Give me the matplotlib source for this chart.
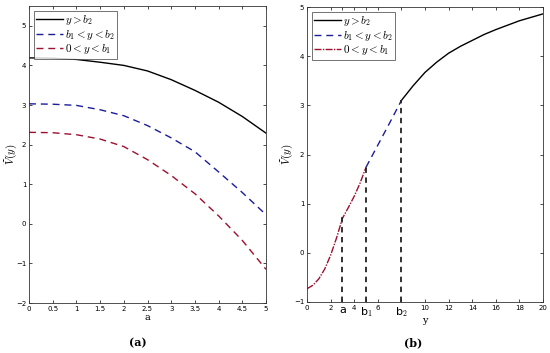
import matplotlib
matplotlib.use('Agg')
import matplotlib.pyplot as plt

plt.rcParams['mathtext.fontset'] = 'cm'

# panel (a): V(y) against a
a_vals = [0, 0.5, 1, 1.5, 2, 2.5, 3, 3.5, 4, 4.5, 5]
v_high = [4.19, 4.18, 4.15, 4.08, 4.00, 3.86, 3.64, 3.37, 3.07, 2.71, 2.29]
v_mid = [3.03, 3.02, 2.99, 2.88, 2.73, 2.48, 2.17, 1.82, 1.31, 0.79, 0.23]
v_low = [2.31, 2.30, 2.25, 2.14, 1.95, 1.62, 1.22, 0.76, 0.20, -0.42, -1.15]

# panel (b): V(y) against y
y_low = [0, 0.5, 1, 1.5, 2, 2.5, 3, 3.5, 4, 4.5, 5]
v_y_low = [-0.73, -0.66, -0.53, -0.33, -0.05, 0.30, 0.70, 0.92, 1.15, 1.42, 1.74]
y_mid = [5, 6, 7, 8]
v_y_mid = [1.74, 2.19, 2.64, 3.10]
y_high = [8, 9, 10, 11, 12, 13, 14, 15, 16, 17, 18, 19, 20]
v_y_high = [3.10, 3.40, 3.67, 3.88, 4.06, 4.20, 4.32, 4.44, 4.54, 4.63, 4.72, 4.79, 4.86]

# marked points a, b1, b2
marks = [3, 5, 8]
mark_vals = [0.72, 1.74, 3.10]

blue = '#1c1c9c'
red = '#9c1030'
labels = [r'$y>b_2$', r'$b_1<y<b_2$', r'$0<y<b_1$']

fig = plt.figure(figsize=(5.5, 3.53), dpi=100)
ax1 = fig.add_axes([29/550, 1-303/353, 237/550, 297/353])
ax2 = fig.add_axes([307/550, 1-302/353, 236/550, 295/353])

def style(ax):
    ax.tick_params(direction='in', top=True, right=True, length=2.5, width=0.5,
                   labelsize=5, pad=2)
    for s in ax.spines.values():
        s.set_linewidth(0.6)
        s.set_color('#333333')

def add_legend(ax):
    leg = ax.legend(loc='upper left', fontsize=8, handlelength=2.4, handletextpad=0.15,
                    borderpad=0.2, labelspacing=0.05, borderaxespad=0.45, fancybox=False)
    leg.get_frame().set_edgecolor('#333333')
    leg.get_frame().set_linewidth(0.6)

ax1.plot(a_vals, v_high, color='black', lw=1.0, label=labels[0])
ax1.plot(a_vals, v_mid, color=blue, lw=1.0, ls=(0, (5, 3.5)), label=labels[1])
ax1.plot(a_vals, v_low, color=red, lw=1.0, ls=(0, (5, 3.5)), label=labels[2])
ax1.set_xlim(0, 5)
ax1.set_ylim(-2, 5.5)
ax1.set_xticks([0, 0.5, 1, 1.5, 2, 2.5, 3, 3.5, 4, 4.5, 5])
ax1.set_xticklabels(['0', '0.5', '1', '1.5', '2', '2.5', '3', '3.5', '4', '4.5', '5'])
ax1.set_yticks([-2, -1, 0, 1, 2, 3, 4, 5])
style(ax1)
ax1.set_xlabel('a', fontsize=7, family='DejaVu Serif', labelpad=1)
ax1.set_ylabel(r'$\widetilde{V}(y)$', fontsize=8)
ax1.yaxis.set_label_coords(-0.042, 0.5)
add_legend(ax1)

ax2.plot(y_high, v_y_high, color='black', lw=1.0, label=labels[0])
ax2.plot(y_mid, v_y_mid, color=blue, lw=1.0, ls=(0, (5, 3.5)), label=labels[1])
ax2.plot(y_low, v_y_low, color=red, lw=1.0, ls=(0, (5, 1, 1, 1)), label=labels[2])
for m, v in zip(marks, mark_vals):
    ax2.plot([m, m], [-1, v], color='#222222', lw=1.3, ls=(0, (3, 2.5)))
ax2.set_xlim(0, 20)
ax2.set_ylim(-1, 5)
ax2.set_xticks([0, 2, 3, 4, 5, 6, 8, 10, 12, 14, 16, 18, 20])
ax2.set_xticklabels(['0', '2', 'a', '4', r'b$_1$', '6', r'b$_2$', '10', '12', '14', '16', '18', '20'])
ax2.set_yticks([-1, 0, 1, 2, 3, 4, 5])
style(ax2)
for t in ax2.get_xticklabels():
    if t.get_text() in ('a', r'b$_1$', r'b$_2$'):
        t.set_fontsize(8)
ax2.set_xlabel('y', fontsize=7, family='DejaVu Serif', labelpad=-2)
ax2.set_ylabel(r'$\widetilde{V}(y)$', fontsize=8)
ax2.yaxis.set_label_coords(-0.05, 0.5)
add_legend(ax2)

fig.text(138/550, 1-343/353, '(a)', ha='center', va='center', fontsize=8,
         fontweight='bold', family='DejaVu Serif')
fig.text(413/550, 1-343/353, '(b)', ha='center', va='center', fontsize=8,
         fontweight='bold', family='DejaVu Serif')

fig.savefig('out.png', dpi=100)
